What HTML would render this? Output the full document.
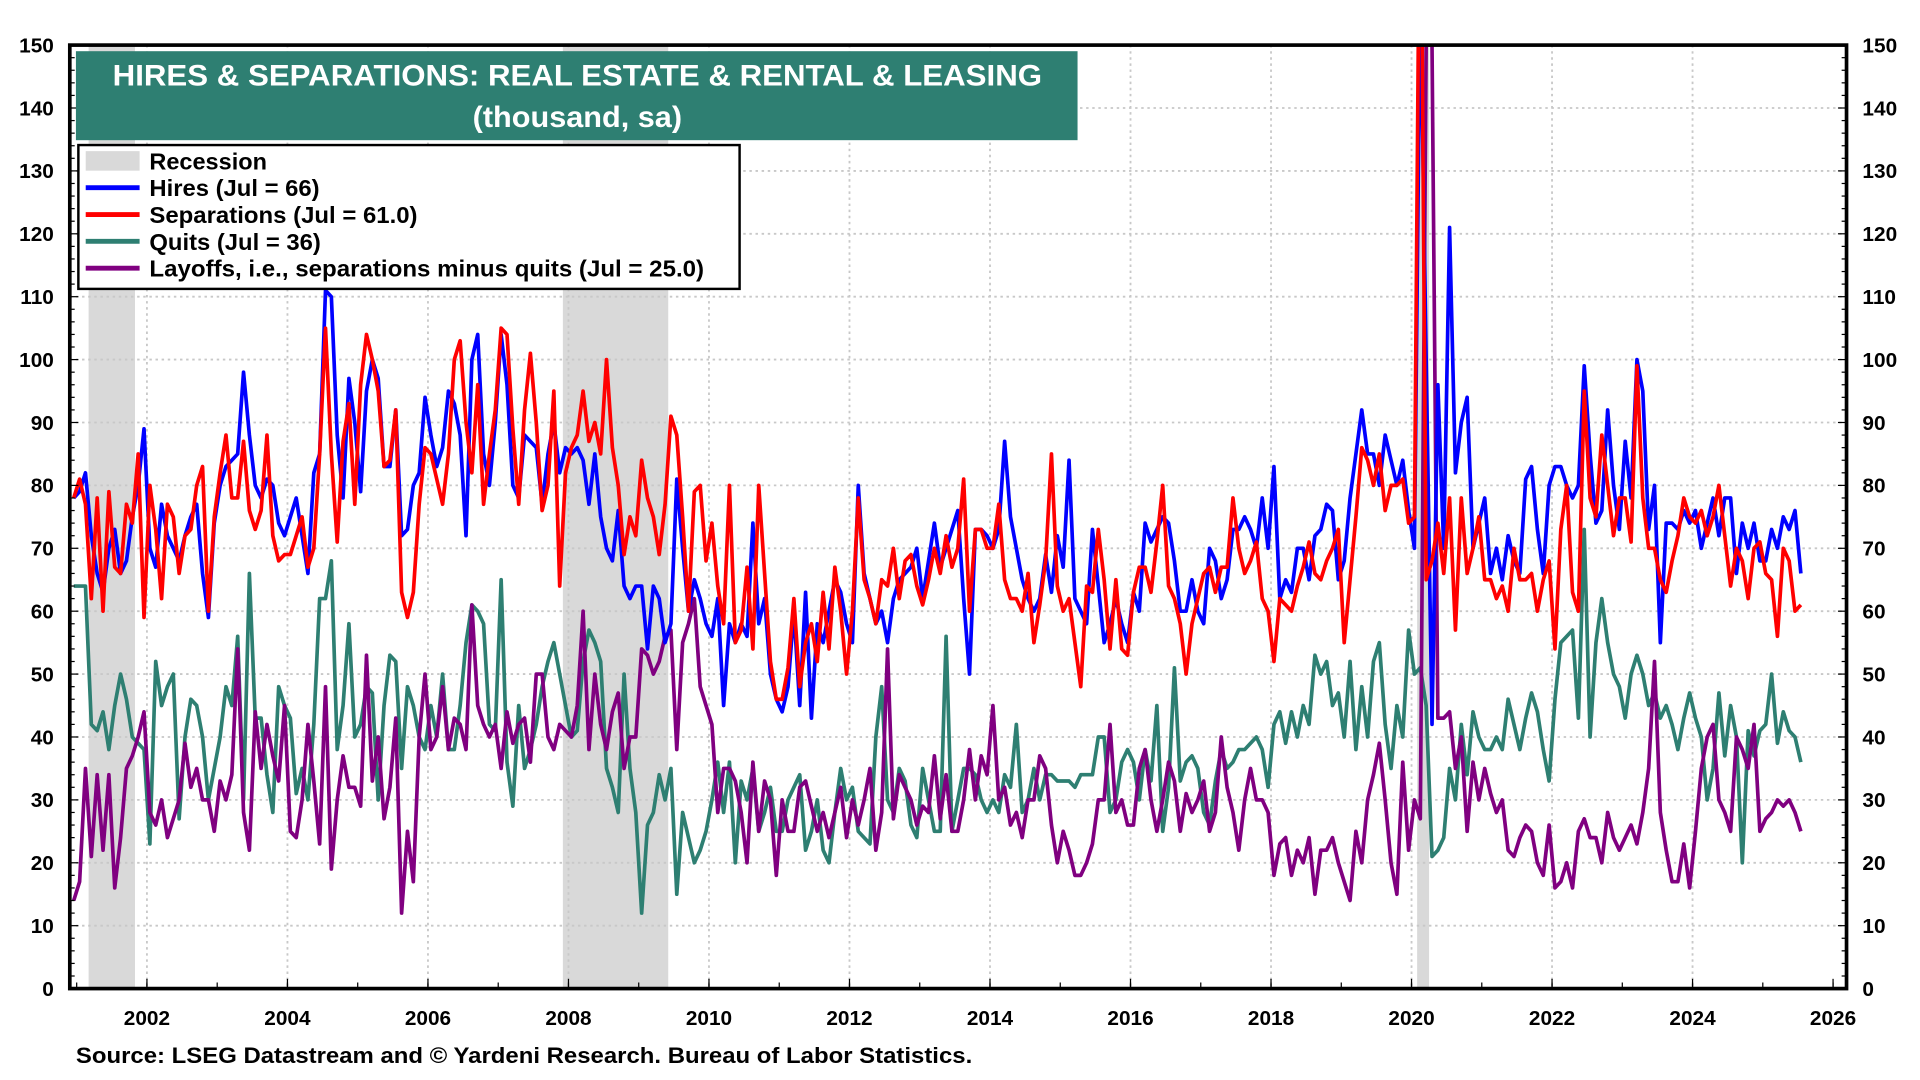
<!DOCTYPE html>
<html><head><meta charset="utf-8"><style>
html,body{margin:0;padding:0;background:#fff;}
svg{display:block;font-family:"Liberation Sans",Arial,sans-serif;}
</style></head><body>
<svg id="chart" width="1920" height="1080" viewBox="0 0 1568 886" preserveAspectRatio="none" xmlns="http://www.w3.org/2000/svg">
<defs><clipPath id="plotclip"><rect x="57" y="37" width="1451" height="774"/></clipPath></defs>
<rect width="1568" height="886" fill="#fff"/>
<g id="recessions"></g>
<g id="grid"></g>
<g id="series" clip-path="url(#plotclip)"></g>
<rect x="57" y="37" width="1451" height="774" fill="none" stroke="#000" stroke-width="3"/>
<g id="axes"></g>
<g>
<rect x="62" y="42" width="818" height="73" fill="#2e7f72"/>
<text x="92" y="70" textLength="759" lengthAdjust="spacingAndGlyphs" fill="#fff" font-size="24" font-weight="bold">HIRES &amp; SEPARATIONS: REAL ESTATE &amp; RENTAL &amp; LEASING</text>
<text x="386" y="104" textLength="171" lengthAdjust="spacingAndGlyphs" fill="#fff" font-size="24" font-weight="bold">(thousand, sa)</text>
</g>
<g font-size="19" font-weight="bold">
<rect x="64" y="119" width="540" height="118" fill="#fff" stroke="#000" stroke-width="2"/>
<rect x="70" y="124" width="44" height="16" fill="#d9d9d9"/>
<text x="122" y="139" textLength="96" lengthAdjust="spacingAndGlyphs">Recession</text>
<line x1="70" y1="154" x2="114" y2="154" stroke="#0000ff" stroke-width="4"/>
<text x="122" y="161" textLength="139" lengthAdjust="spacingAndGlyphs">Hires (Jul = 66)</text>
<line x1="70" y1="176" x2="114" y2="176" stroke="#ff0000" stroke-width="4"/>
<text x="122" y="183" textLength="219" lengthAdjust="spacingAndGlyphs">Separations (Jul = 61.0)</text>
<line x1="70" y1="198" x2="114" y2="198" stroke="#2e7f72" stroke-width="4"/>
<text x="122" y="205" textLength="140" lengthAdjust="spacingAndGlyphs">Quits (Jul = 36)</text>
<line x1="70" y1="220" x2="114" y2="220" stroke="#800080" stroke-width="4"/>
<text x="122" y="227" textLength="453" lengthAdjust="spacingAndGlyphs">Layoffs, i.e., separations minus quits (Jul = 25.0)</text>
</g>
<text x="62" y="872" textLength="732" lengthAdjust="spacingAndGlyphs" font-size="18" font-weight="bold">Source: LSEG Datastream and © Yardeni Research. Bureau of Labor Statistics.</text>
</svg>
<script>
const startYear = 2000, startMonth = 12;
const yTicks = [0,10,20,30,40,50,60,70,80,90,100,110,120,130,140,150];
const xTicks = [2002,2004,2006,2008,2010,2012,2014,2016,2018,2020,2022,2024,2026];
const recessionStarts = [2001.17, 2007.92, 2020.08];
const recessionEnds = [2001.83, 2009.42, 2020.25];
const hires = [78,
79,82,72,66,63,70,73,66,68,75,80,89,
70,67,77,72,70,68,72,75,77,66,59,74,
80,83,84,85,98,88,80,78,81,80,74,72,
75,78,72,66,82,85,111,110,88,78,97,90,
79,95,100,97,83,83,92,72,73,80,82,94,
88,83,86,95,93,88,72,100,104,85,80,90,
104,96,80,78,88,87,86,77,85,90,82,86,
85,86,84,77,85,75,70,68,76,64,62,64,
64,54,64,62,55,58,81,70,60,65,62,58,
56,62,45,58,55,58,56,74,58,62,50,46,
44,48,60,45,63,43,58,55,60,65,63,58,
55,80,66,62,58,60,55,62,65,66,67,70,
62,68,74,67,70,73,76,62,50,73,73,72,
70,73,87,75,70,65,62,60,62,69,63,72,
67,84,62,60,58,73,64,55,58,62,58,55,
63,60,74,71,73,75,74,68,60,60,65,60,
58,70,68,62,65,73,73,75,73,70,78,70,
83,62,65,63,70,70,65,72,73,77,76,65,
68,78,85,92,85,85,80,88,84,80,84,76,
70,160,100,42,96,70,121,82,90,94,70,74,
78,66,70,65,72,68,66,81,83,73,66,80,
83,83,80,78,80,99,85,74,76,92,80,73,
87,78,100,95,73,80,55,74,74,73,76,74,
76,70,74,78,72,78,78,66,74,70,74,68,
68,73,70,75,73,76,66];
const separations = [78,
81,77,62,78,60,79,67,66,77,74,85,59,
80,73,62,77,75,66,72,73,80,83,60,75,
82,88,78,78,87,76,73,76,88,72,68,69,
69,72,75,67,70,85,105,85,71,87,93,77,
96,104,100,95,83,84,92,63,59,63,77,86,
85,81,77,85,100,103,90,82,96,77,85,92,
105,104,89,77,92,101,90,76,80,95,64,82,
86,88,95,87,90,85,100,86,80,69,75,72,
84,78,75,69,77,91,88,75,60,79,80,68,
74,64,58,80,55,57,67,54,80,66,52,46,
46,51,62,48,55,58,52,63,54,67,60,50,
60,78,65,62,58,65,64,70,62,68,69,64,
61,65,70,66,72,67,70,81,60,73,73,70,
70,77,65,62,62,60,66,55,61,68,85,64,
60,62,55,48,64,63,73,65,54,65,54,53,
63,67,67,63,71,80,64,62,58,50,58,62,
66,67,63,67,67,78,70,66,68,71,62,60,
52,62,61,60,64,67,71,66,65,68,70,73,
55,65,75,86,84,80,85,76,80,80,81,74,
75,190,65,68,74,66,78,57,78,66,70,75,
65,65,62,64,60,70,65,65,66,60,65,68,
54,73,80,63,60,95,78,75,88,80,72,78,
78,71,99,78,70,70,65,63,68,72,78,75,
74,76,72,75,80,72,64,70,68,62,70,71,
66,65,56,70,68,60,61];
const quits = [64,
64,64,42,41,44,38,45,50,46,40,39,38,
23,52,45,48,50,27,40,46,45,40,30,35,
40,48,45,56,30,66,43,43,34,28,48,45,
43,31,35,30,42,62,62,68,38,45,58,40,
42,48,47,30,45,53,52,35,48,45,40,38,
45,40,50,38,38,45,55,61,60,58,42,41,
65,36,29,45,35,38,42,48,52,55,50,45,
40,41,52,57,55,52,35,32,28,50,35,28,
12,26,28,34,30,35,15,28,24,20,22,25,
30,36,28,36,20,33,30,35,25,28,32,25,
25,30,32,34,22,25,30,22,20,28,35,30,
32,25,24,23,40,48,30,28,35,33,26,24,
35,30,25,25,56,25,30,35,35,34,30,28,
30,28,34,32,42,28,30,35,30,34,34,33,
33,33,32,34,34,34,40,40,28,30,36,38,
36,30,38,33,45,25,32,51,33,36,37,35,
28,26,33,38,35,36,38,38,39,40,38,32,
42,44,39,44,40,45,42,53,50,52,45,47,
40,52,38,48,40,52,55,42,35,45,40,57,
50,51,45,21,22,24,35,30,42,34,44,40,
38,38,40,38,46,42,38,43,47,44,38,33,
46,55,56,57,43,73,40,55,62,55,50,48,
43,50,53,50,45,47,43,45,42,38,43,47,
43,40,30,35,47,37,45,40,20,41,37,41,
42,50,39,44,41,40,36];
const layoffs = [14,
17,35,21,34,22,34,16,24,35,37,40,44,
28,26,30,24,27,30,39,32,35,30,30,25,
33,30,34,54,28,22,44,35,42,37,33,45,
25,24,30,42,33,23,48,19,30,37,32,32,
29,53,33,40,27,32,43,12,25,17,40,50,
38,40,48,38,43,42,38,61,45,42,40,42,
35,44,39,42,43,36,50,50,40,38,42,41,
40,45,60,38,50,42,38,44,47,35,40,40,
54,53,50,52,56,57,38,55,58,62,48,45,
42,28,35,35,33,28,20,36,25,33,30,18,
30,25,25,32,33,29,25,28,24,28,32,24,
30,26,30,35,22,28,54,27,34,32,30,26,
29,28,37,27,34,25,25,30,38,30,37,34,
45,30,32,26,28,24,30,30,37,35,26,20,
25,22,18,18,20,23,30,30,42,28,30,26,
26,35,38,30,25,30,36,33,25,31,28,30,
33,25,28,40,32,28,22,30,35,30,30,28,
18,23,24,18,22,20,24,15,22,22,24,20,
17,14,25,20,30,34,39,30,20,15,36,22,
30,27,150,150,43,43,44,35,40,25,36,30,
35,31,28,30,22,21,24,26,25,20,18,26,
16,17,20,16,25,27,24,24,20,28,24,22,
24,26,23,28,35,52,28,22,17,17,23,16,
25,35,40,42,30,28,25,40,38,35,42,25,
27,28,30,29,30,28,25];

const NS = "http://www.w3.org/2000/svg";
const X0 = 120, YR0 = 2002, PX_YEAR = 57.375;
const Y0 = 811, PX_UNIT = 5.16;
function xScale(t){ return X0 + (t - YR0) * PX_YEAR; }
function yScale(v){ return Y0 - v * PX_UNIT; }
function monthTime(i){ const m = startMonth - 1 + i; return startYear + Math.floor(m/12) + ((m%12)+0.5)/12; }
function mk(tag, attrs){ const e = document.createElementNS(NS, tag); for (const k in attrs) e.setAttribute(k, attrs[k]); return e; }

const rec = document.getElementById('recessions');
recessionStarts.forEach((s, i) => {
  const r = mk('rect', {x: xScale(s), y: 37, width: xScale(recessionEnds[i]) - xScale(s), height: 774, fill: '#d9d9d9'});
  
  
  rec.appendChild(r);
});

const grid = document.getElementById('grid');
const axes = document.getElementById('axes');
yTicks.forEach(v => {
  const y = yScale(v);
  if (v > 0 && v < 150) {
    const l = mk('line', {x1: 57, x2: 1508, y1: y, y2: y, stroke: '#c8c8c8', 'stroke-width': 1.5, 'stroke-dasharray': '2,3'});
    
    
    grid.appendChild(l);
  }
  const tl = mk('text', {x: 44, y: y + 6, 'text-anchor': 'end', 'font-size': 17, 'font-weight': 'bold'});
  tl.textContent = v;
  
  
  axes.appendChild(tl);
  const tr = mk('text', {x: 1521, y: y + 6, 'text-anchor': 'start', 'font-size': 17, 'font-weight': 'bold'});
  tr.textContent = v;
  
  
  axes.appendChild(tr);
});
for (let v = 0; v <= 150; v += 2) {
  const y = yScale(v);
  const len = (v % 10 === 0) ? 7 : 4;
  axes.appendChild(mk('line', {x1: 57, x2: 57 + len, y1: y, y2: y, stroke: '#000', 'stroke-width': 1}));
  axes.appendChild(mk('line', {x1: 1508 - len, x2: 1508, y1: y, y2: y, stroke: '#000', 'stroke-width': 1}));
}
xTicks.forEach(t => {
  const x = xScale(t);
  if (t < 2026) {
    const l = mk('line', {x1: x, x2: x, y1: 37, y2: 811, stroke: '#c8c8c8', 'stroke-width': 1.5, 'stroke-dasharray': '2,3'});
    
    
    grid.appendChild(l);
  }
  axes.appendChild(mk('line', {x1: x, x2: x, y1: 811, y2: 803, stroke: '#000', 'stroke-width': 1}));
  const tx = mk('text', {x: x, y: 841, 'text-anchor': 'middle', 'font-size': 17, 'font-weight': 'bold'});
  tx.textContent = t;
  
  
  axes.appendChild(tx);
});
for (let t = 2001; t <= 2026; t++) {
  const x = xScale(t);
  axes.appendChild(mk('line', {x1: x, x2: x, y1: 811, y2: 806, stroke: '#000', 'stroke-width': 1}));
}

const seriesG = document.getElementById('series');
function drawLine(vals, color, name){
  const d = vals.map((v, i) => (i ? 'L' : 'M') + xScale(monthTime(i)).toFixed(2) + ',' + yScale(v).toFixed(2)).join('');
  const p = mk('path', {d: d, fill: 'none', stroke: color, 'stroke-width': 3, 'stroke-linejoin': 'round'});
  
  
  seriesG.appendChild(p);
}
drawLine(quits, '#2e7f72', 'quits-line');
drawLine(layoffs, '#800080', 'layoffs-line');
drawLine(hires, '#0000ff', 'hires-line');
drawLine(separations, '#ff0000', 'separations-line');
</script>
</body></html>
